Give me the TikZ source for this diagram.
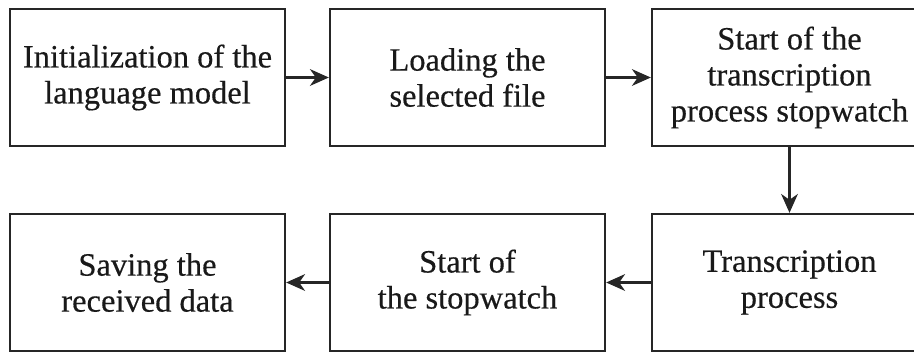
\documentclass[tikz,border=0pt]{standalone}
\usepackage{fontspec}
\setmainfont{Liberation Serif}[FakeBold=0.4]
\usetikzlibrary{arrows.meta}
\begin{document}
\begin{tikzpicture}[x=1pt,y=-1pt,
  stepbox/.style={draw=black!85,line width=2.4pt,minimum width=275pt,minimum height=137pt,
    inner sep=0pt,align=center,font=\fontsize{32.5}{36}\selectfont,text=black!90},
  flow/.style={draw=black!85,line width=2.4pt,-{Stealth[length=19pt,width=17pt,inset=6pt,line width=0pt]}}]
  \useasboundingbox (0,0) rectangle (914,354);
  \fill[white] (0,0) rectangle (914,354);
  % upper row, left to right
  \node[stepbox] (init)  at (147.5,77.5) {Initialization of the\\language model};
  \node[stepbox] (load)  at (467.5,77.5) {Loading the\\selected file};
  \node[stepbox] (start) at (789.5,77.5) {Start of the\\transcription\\process stopwatch};
  % lower row, right to left
  \node[stepbox] (trans) at (789.5,282.5) {Transcription\\process};
  \node[stepbox] (watch) at (467.5,282.5) {Start of\\the stopwatch};
  \node[stepbox] (save)  at (147.5,282.5) {Saving the\\received data};
  % connectors
  \draw[flow] (init.east)  -- (load.west);
  \draw[flow] (load.east)  -- (start.west);
  \draw[flow] (start.south) -- (trans.north);
  \draw[flow] (trans.west) -- (watch.east);
  \draw[flow] (watch.west) -- (save.east);
\end{tikzpicture}
\end{document}
